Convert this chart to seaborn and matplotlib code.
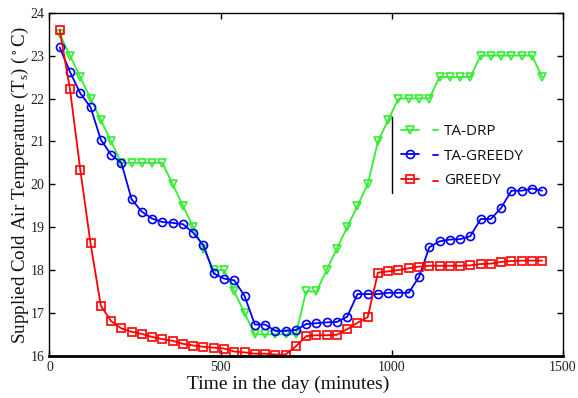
import numpy as np
import pandas as pd
import matplotlib
matplotlib.use("Agg")
import matplotlib.pyplot as plt
import seaborn as sns
from matplotlib.lines import Line2D
from matplotlib.legend_handler import HandlerLine2D

# time of day, every 30 minutes
minutes = list(range(30, 1441, 30))

ta_drp = [23.5, 23.0, 22.5, 22.0, 21.5, 21.0, 20.5, 20.5, 20.5, 20.5, 20.5, 20.0,
          19.5, 19.0, 18.5, 18.0, 18.0, 17.5, 17.0, 16.5, 16.5, 16.5, 16.5, 16.5,
          17.5, 17.5, 18.0, 18.5, 19.0, 19.5, 20.0, 21.0, 21.5, 22.0, 22.0, 22.0,
          22.0, 22.5, 22.5, 22.5, 22.5, 23.0, 23.0, 23.0, 23.0, 23.0, 23.0, 22.5]

ta_greedy = [23.19, 22.62, 22.12, 21.80, 21.04, 20.69, 20.50, 19.65, 19.36, 19.20, 19.12, 19.10,
             19.07, 18.87, 18.58, 17.92, 17.80, 17.76, 17.40, 16.73, 16.73, 16.58, 16.58, 16.60,
             16.74, 16.76, 16.78, 16.79, 16.91, 17.44, 17.44, 17.44, 17.47, 17.47, 17.47, 17.84,
             18.53, 18.67, 18.71, 18.72, 18.79, 19.19, 19.19, 19.45, 19.85, 19.85, 19.90, 19.85]

greedy = [23.60, 22.21, 20.34, 18.62, 17.17, 16.81, 16.64, 16.56, 16.51, 16.44, 16.39, 16.35,
          16.28, 16.24, 16.21, 16.19, 16.17, 16.10, 16.08, 16.05, 16.05, 16.03, 16.03, 16.22,
          16.46, 16.48, 16.48, 16.49, 16.62, 16.77, 16.90, 17.94, 17.97, 18.00, 18.04, 18.08,
          18.10, 18.10, 18.10, 18.10, 18.11, 18.14, 18.15, 18.19, 18.21, 18.22, 18.22, 18.22]

labels = ["TA-DRP", "TA-GREEDY", "GREEDY"]
colors = ["#33ee33", "#0000ff", "#ff0000"]
markers = ["v", "o", "s"]

df = pd.DataFrame({
    "minutes": minutes * 3,
    "temp": ta_drp + ta_greedy + greedy,
    "method": sum([[l] * len(minutes) for l in labels], []),
})


# legend handle with the marker sitting near the right end of the line
class EndMarkerHandler(HandlerLine2D):
    def get_xdata(self, legend, xdescent, ydescent, width, height, fontsize):
        x0 = -xdescent
        return [x0, x0 + width], [x0 + width * 0.8]


sns.set_style("ticks")
plt.rcParams["font.family"] = ["Liberation Serif", "DejaVu Serif"]
plt.rcParams["mathtext.fontset"] = "custom"
plt.rcParams["mathtext.rm"] = "Liberation Serif"

fig = plt.figure(figsize=(5.78, 3.98), dpi=100)
ax = fig.add_axes([0.0856, 0.106, 0.888, 0.862])

MS = 5.8
for lab, col, mk in zip(labels, colors, markers):
    sns.lineplot(data=df[df["method"] == lab], x="minutes", y="temp", ax=ax,
                 color=col, marker=mk, markersize=MS, markerfacecolor="none",
                 markeredgecolor=col, markeredgewidth=1.2, linewidth=1.3,
                 legend=False)

ax.set_xlim(0, 1500)
ax.set_ylim(16, 24)
ax.set_xticks([0, 500, 1000, 1500])
ax.set_yticks(range(16, 25))
ax.tick_params(direction="in", top=True, right=True, labelsize=10, length=4,
               width=1, colors="black", labelcolor="#222222")
for s in ax.spines.values():
    s.set_visible(True)
    s.set_color("black")
    s.set_linewidth(1.0)
ax.spines["bottom"].set_linewidth(2.0)

ax.set_xlabel("Time in the day (minutes)", fontsize=14, color="#111111")
ax.xaxis.set_label_coords(0.466, -0.058)
ax.set_ylabel(r"Supplied Cold Air Temperature (T$_\mathregular{s}$) ($\mathregular{^\circ}$C)",
              fontsize=13.7, color="#111111")
ax.yaxis.set_label_coords(-0.036, 0.497)

handles = [Line2D([], [], color=c, marker=m, markersize=MS, markerfacecolor="none",
                  markeredgecolor=c, markeredgewidth=1.2, linewidth=1.3)
           for c, m in zip(colors, markers)]
leg = ax.legend(handles, labels, frameon=False, loc="upper left",
                handler_map={Line2D: EndMarkerHandler()},
                bbox_to_anchor=(0.658, 0.715), handlelength=1.2, handletextpad=1.6,
                labelspacing=0.62, prop={"family": "Open Sans", "size": 11})
for t in leg.get_texts():
    t.set_color("#111111")

# small coloured dashes between the handles and the labels
for yy, c in zip([0.657, 0.584, 0.511], colors):
    ax.plot([0.748, 0.756], [yy, yy], transform=ax.transAxes, color=c,
            linewidth=1.3, clip_on=False)

ax.plot([0.667, 0.667], [0.474, 0.696], transform=ax.transAxes, color="black",
        linewidth=1.0, clip_on=False)

fig.savefig("out.png", dpi=100)
